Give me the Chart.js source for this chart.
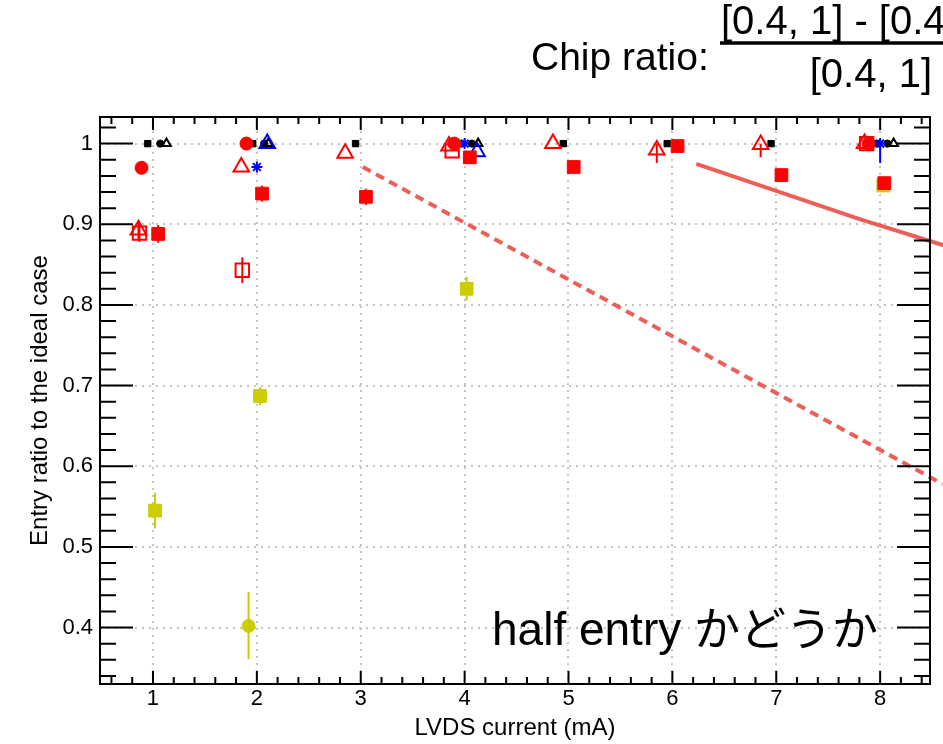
<!DOCTYPE html>
<html>
<head>
<meta charset="utf-8">
<script src="https://cdn.jsdelivr.net/npm/chart.js@4"></script>
<style>
  body { margin: 0; background: #fff; }
  #wrap { width: 943px; height: 744px; }
</style>
</head>
<body>
<div id="wrap"><canvas id="chart" width="943" height="744"></canvas></div>
<script>
// axis ticks
const xTicks = [1, 2, 3, 4, 5, 6, 7, 8];
const yTicks = [0.4, 0.5, 0.6, 0.7, 0.8, 0.9, 1];

// black reference points, all at 1
const blackSqX = [0.95, 1.96, 2.95, 3.96, 4.95, 5.95, 6.95, 7.96];
const blackSqY = [1, 1, 1, 1, 1, 1, 1, 1];
const blackCircX = [1.07, 2.07, 4.07, 8.07];
const blackCircY = [1, 1, 1, 1];
const blackTriX = [1.13, 2.11, 4.13, 8.13];
const blackTriY = [1, 1, 1, 1];

// blue
const blueTriX = [2.1, 4.12];
const blueTriY = [1.0, 0.99];
const blueStarX = [2.0, 4.0, 8.0];
const blueStarY = [0.971, 1.0, 1.0];
const blueStarLo = [0, 0, 0.024];
const blueStarHi = [0, 0, 0.005];

// red
const redCircX = [0.89, 1.9, 3.9, 7.89];
const redCircY = [0.970, 1.0, 1.0, 1.0];
const redOpenTriX = [0.86, 1.85, 2.85, 3.85, 4.85, 5.85, 6.85, 7.85];
const redOpenTriY = [0.893, 0.971, 0.988, 0.997, 1.0, 0.992, 0.999, 1.0];
const redOpenTriLo = [0.012, 0, 0, 0, 0, 0.016, 0.016, 0];
const redOpenTriHi = [0.012, 0, 0, 0, 0, 0.008, 0.001, 0];
const redOpenSqX = [0.87, 1.86, 3.88, 7.87];
const redOpenSqY = [0.889, 0.843, 0.991, 1.0];
const redOpenSqLo = [0.011, 0.016, 0, 0];
const redOpenSqHi = [0.011, 0.016, 0, 0];
const redSqX = [1.05, 2.05, 3.05, 4.05, 5.05, 6.05, 7.05, 8.04];
const redSqY = [0.888, 0.938, 0.934, 0.983, 0.971, 0.997, 0.961, 0.951];
const redSqLo = [0.011, 0.01, 0.01, 0.006, 0.006, 0.004, 0.006, 0.007];
const redSqHi = [0.011, 0.01, 0.01, 0.006, 0.006, 0.003, 0.006, 0.007];

// yellow
const yelSqX = [1.02, 2.03, 4.02, 8.03];
const yelSqY = [0.545, 0.687, 0.820, 0.948];
const yelSqLo = [0.022, 0.011, 0.014, 0.008];
const yelSqHi = [0.022, 0.011, 0.015, 0.008];
const yelCircX = [1.92];
const yelCircY = [0.402];
const yelCircLo = [0.041];
const yelCircHi = [0.042];

// guide lines drawn over the frame
const dashLineX = [3.02, 8.60];
const dashLineY = [0.971, 0.578];
const solidLineX = [6.23, 7.81, 8.61];
const solidLineY = [0.975, 0.906, 0.874];

const RED = '#ff0000', BLUE = '#0000ff', YEL = '#cccc00', GUIDE = '#ec5f59';
const FONT = '"Liberation Sans", Arial, Helvetica, sans-serif';

const pts = (xs, ys) => xs.map((x, i) => ({ x: x, y: ys[i] }));

function markers(label, xs, ys, style, color, radius, open, lo, hi) {
  return {
    label: label,
    data: pts(xs, ys),
    pointStyle: style,
    pointRadius: radius,
    pointHoverRadius: radius,
    backgroundColor: open ? 'rgba(0,0,0,0)' : color,
    borderColor: color,
    borderWidth: open ? 2 : 1,
    showLine: false,
    errLo: lo,
    errHi: hi
  };
}

// vertical error bars, drawn under the markers
const errorBars = {
  id: 'errorBars',
  beforeDatasetsDraw(chart) {
    const { ctx, scales: { x, y } } = chart;
    ctx.save();
    ctx.lineWidth = 2;
    chart.data.datasets.forEach(ds => {
      if (!ds.errLo) return;
      ds.data.forEach((p, i) => {
        const lo = ds.errLo[i] || 0, hi = ds.errHi[i] || 0;
        if (!lo && !hi) return;
        const px = x.getPixelForValue(p.x);
        ctx.strokeStyle = ds.borderColor;
        ctx.beginPath();
        ctx.moveTo(px, y.getPixelForValue(p.y - lo));
        ctx.lineTo(px, y.getPixelForValue(p.y + hi));
        ctx.stroke();
      });
    });
    ctx.restore();
  }
};

// frame with inward ticks, axis titles and the text on the canvas
const frame = {
  id: 'frame',
  afterDraw(chart) {
    const { ctx, chartArea: a, scales: { x, y } } = chart;
    ctx.save();
    ctx.strokeStyle = '#000';
    ctx.lineWidth = 2;
    ctx.strokeRect(a.left, a.top, a.right - a.left, a.bottom - a.top);
    ctx.beginPath();
    for (let i = 3; i <= 42; i++) {
      const px = x.getPixelForValue(i / 5);
      const len = i % 5 === 0 ? 13 : 7;
      ctx.moveTo(px, a.bottom); ctx.lineTo(px, a.bottom - len);
      ctx.moveTo(px, a.top); ctx.lineTo(px, a.top + len);
    }
    for (let i = 17; i <= 51; i++) {
      const py = y.getPixelForValue(i / 50);
      const len = i % 5 === 0 ? 33 : 16;
      ctx.moveTo(a.left, py); ctx.lineTo(a.left + len, py);
      ctx.moveTo(a.right, py); ctx.lineTo(a.right - len, py);
    }
    ctx.stroke();

    ctx.fillStyle = '#000';
    ctx.font = '24px ' + FONT;
    ctx.textAlign = 'center';
    ctx.textBaseline = 'alphabetic';
    ctx.fillText('LVDS current (mA)', (a.left + a.right) / 2, 735);
    ctx.save();
    ctx.translate(47, (a.top + a.bottom) / 2);
    ctx.rotate(-Math.PI / 2);
    ctx.fillText('Entry ratio to the ideal case', 0, 0);
    ctx.restore();

    ctx.font = '46px ' + FONT + ', "Noto Sans CJK JP"';
    ctx.textAlign = 'left';
    ctx.fillText('half entry かどうか', 492, 645);

    ctx.font = '39px ' + FONT;
    ctx.fillText('Chip ratio:', 531, 70);
    ctx.font = '40px ' + FONT;
    ctx.fillText('[0.4, 1] - [0.4, 0.6]', 721, 34);
    ctx.textAlign = 'right';
    ctx.fillText('[0.4, 1]', 932, 87);
    ctx.lineWidth = 3.5;
    ctx.beginPath();
    ctx.moveTo(720, 43); ctx.lineTo(1000, 43);
    ctx.stroke();
    ctx.restore();
  }
};

const guide = (xs, ys, dash) => ({
  label: 'guide',
  data: pts(xs, ys),
  showLine: true,
  borderColor: GUIDE,
  borderWidth: 4,
  borderDash: dash,
  pointRadius: 0,
  fill: false,
  clip: false,
  order: -1
});

const gridOpts = { color: '#c4c4c4', lineWidth: 2, drawTicks: false };
const borderOpts = { display: false, dash: [2, 5] };

new Chart(document.getElementById('chart'), {
  type: 'scatter',
  data: {
    datasets: [
      markers('red sq', redSqX, redSqY, 'rect', RED, 9, false, redSqLo, redSqHi),
      markers('red circ', redCircX, redCircY, 'circle', RED, 6.5, false),
      markers('red open sq', redOpenSqX, redOpenSqY, 'rect', RED, 9.5, true, redOpenSqLo, redOpenSqHi),
      markers('red open tri', redOpenTriX, redOpenTriY, 'triangle', RED, 9, true, redOpenTriLo, redOpenTriHi),
      markers('blue star', blueStarX, blueStarY, 'star', BLUE, 5.5, true, blueStarLo, blueStarHi),
      markers('blue tri', blueTriX, blueTriY, 'triangle', BLUE, 9, true),
      markers('black sq', blackSqX, blackSqY, 'rect', '#000', 4.5, false),
      markers('black circ', blackCircX, blackCircY, 'circle', '#000', 3.6, false),
      markers('black tri', blackTriX, blackTriY, 'triangle', '#000', 5, true),
      markers('yellow sq', yelSqX, yelSqY, 'rect', YEL, 9, false, yelSqLo, yelSqHi),
      markers('yellow circ', yelCircX, yelCircY, 'circle', YEL, 6.5, false, yelCircLo, yelCircHi),
      guide(dashLineX, dashLineY, [9, 6]),
      guide(solidLineX, solidLineY, [])
    ]
  },
  options: {
    responsive: false,
    animation: false,
    layout: { padding: { left: 0, top: 117, right: 13, bottom: 0 } },
    plugins: { legend: { display: false }, tooltip: { enabled: false } },
    scales: {
      x: {
        type: 'linear',
        min: 0.49,
        max: 8.48,
        afterBuildTicks: s => { s.ticks = xTicks.map(v => ({ value: v })); },
        afterFit: s => { s.height = 60; },
        border: borderOpts,
        grid: gridOpts,
        ticks: { padding: 2, color: '#000', font: { family: FONT, size: 22 }, maxRotation: 0, callback: v => String(v) }
      },
      y: {
        type: 'linear',
        min: 0.33,
        max: 1.033,
        afterBuildTicks: s => { s.ticks = yTicks.map(v => ({ value: v })); },
        afterFit: s => { s.width = 100; },
        border: borderOpts,
        grid: gridOpts,
        ticks: { padding: 7, color: '#000', font: { family: FONT, size: 22 }, callback: v => String(v) }
      }
    }
  },
  plugins: [errorBars, frame]
});
</script>
</body>
</html>
